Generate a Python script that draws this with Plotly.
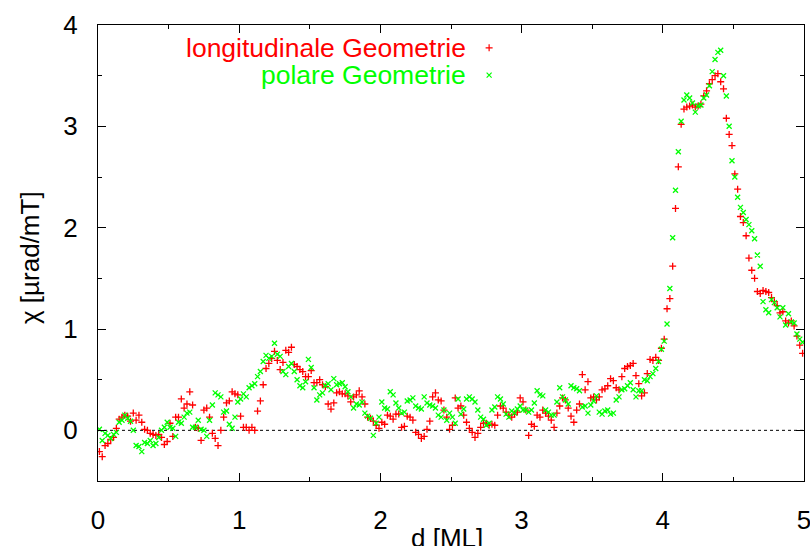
import numpy as np
import plotly.graph_objects as go

# Susceptibility chi [µrad/mT] vs. film thickness d [ML], sampled every 0.02 ML from 0.01 ML
d_start = 0.01
d_step = 0.02

chi_longitudinal = [
    -0.21, -0.26, -0.15, -0.13, -0.09, -0.07, 0.02, 0.11, 0.13, 0.15,
    0.14, 0.09, 0.17, 0.10, 0.15, 0.08, 0.01, 0.00, -0.03, -0.04,
    -0.05, -0.04, -0.07, -0.14, -0.11, 0.07, -0.06, 0.13, 0.13, 0.31,
    0.22, 0.26, 0.38, 0.25, 0.03, 0.02, -0.10, 0.20, 0.22, 0.13,
    -0.03, -0.08, -0.15, 0.00, 0.13, 0.27, 0.29, 0.38, 0.36, 0.35,
    0.14, 0.03, 0.03, 0.00, 0.03, 0.00, 0.19, 0.29, 0.45, 0.61,
    0.66, 0.71, 0.78, 0.69, 0.60, 0.67, 0.79, 0.77, 0.82, 0.65,
    0.63, 0.60, 0.58, 0.53, 0.53, 0.59, 0.47, 0.47, 0.50, 0.45,
    0.43, 0.26, 0.21, 0.27, 0.37, 0.38, 0.36, 0.36, 0.34, 0.28,
    0.33, 0.35, 0.39, 0.33, 0.26, 0.13, 0.12, 0.09, 0.05, 0.02,
    0.08, 0.06, 0.15, 0.14, 0.11, 0.16, 0.16, 0.03, 0.04, 0.14,
    0.13, 0.10, -0.02, -0.04, -0.08, -0.06, 0.01, 0.09, 0.33, 0.37,
    0.30, 0.29, 0.20, 0.13, 0.01, 0.05, 0.32, 0.22, 0.24, 0.15,
    0.08, 0.02, -0.02, -0.07, -0.03, 0.03, 0.07, 0.07, 0.05, 0.06,
    0.05, 0.15, 0.24, 0.22, 0.18, 0.15, 0.13, 0.16, 0.18, 0.32,
    0.28, 0.20, -0.05, 0.06, 0.04, 0.15, 0.13, 0.20, 0.17, 0.14,
    0.10, 0.03, 0.17, 0.24, 0.32, 0.30, 0.22, 0.14, 0.08, 0.20,
    0.26, 0.55, 0.40, 0.48, 0.32, 0.33, 0.30, 0.33, 0.40, 0.41,
    0.44, 0.51, 0.49, 0.42, 0.40, 0.53, 0.61, 0.63, 0.64, 0.66,
    0.54, 0.46, 0.34, 0.37, 0.56, 0.70, 0.69, 0.72, 0.69, 0.81,
    0.90, 1.20, 1.30, 1.62, 2.19, 2.60, 3.02, 3.17, 3.19, 3.20,
    3.21, 3.19, 3.20, 3.22, 3.30, 3.35, 3.42, 3.46, 3.50, 3.52,
    3.44, 3.37, 3.08, 2.92, 2.81, 2.53, 2.38, 2.11, 2.05, 1.92,
    1.70, 1.58, 1.50, 1.37, 1.35, 1.38, 1.37, 1.36, 1.31, 1.27,
    1.23, 1.16, 1.17, 1.08, 1.06, 1.08, 1.03, 0.93, 0.84, 0.76,
]

chi_polar = [
    0.01, -0.10, -0.03, -0.05, -0.08, -0.04, -0.02, 0.08, 0.10, 0.15,
    0.12, 0.09, 0.00, -0.15, -0.16, -0.21, -0.12, -0.13, -0.10, -0.15,
    -0.13, -0.07, 0.00, 0.03, 0.08, 0.03, 0.02, -0.06, 0.08, 0.07,
    0.13, 0.17, 0.18, 0.03, 0.03, 0.10, 0.01, 0.00, -0.06, 0.10,
    0.25, 0.37, 0.35, 0.33, 0.18, 0.19, 0.06, 0.02, 0.13, 0.28,
    0.31, 0.36, 0.33, 0.42, 0.44, 0.46, 0.53, 0.58, 0.68, 0.74,
    0.71, 0.73, 0.86, 0.75, 0.73, 0.58, 0.55, 0.63, 0.66, 0.58,
    0.50, 0.44, 0.42, 0.48, 0.70, 0.62, 0.42, 0.30, 0.35, 0.37,
    0.44, 0.46, 0.40, 0.51, 0.45, 0.46, 0.47, 0.43, 0.38, 0.33,
    0.22, 0.26, 0.25, 0.28, 0.17, 0.14, 0.12, -0.05, 0.07, 0.13,
    0.28, 0.22, 0.21, 0.38, 0.35, 0.27, 0.22, 0.17, 0.18, 0.29,
    0.30, 0.32, 0.24, 0.22, 0.21, 0.33, 0.27, 0.25, 0.24, 0.22,
    0.15, 0.13, 0.20, 0.10, 0.17, 0.13, 0.07, 0.31, 0.16, 0.21,
    0.31, 0.33, 0.31, 0.28, 0.20, 0.13, 0.11, 0.05, 0.07, 0.20,
    0.23, 0.33, 0.31, 0.26, 0.16, 0.13, 0.19, 0.17, 0.21, 0.24,
    0.20, 0.20, 0.18, 0.20, 0.27, 0.39, 0.35, 0.34, 0.20, 0.18,
    0.15, 0.15, 0.28, 0.42, 0.33, 0.30, 0.26, 0.44, 0.42, 0.41,
    0.39, 0.23, 0.24, 0.17, 0.25, 0.29, 0.34, 0.18, 0.16, 0.19,
    0.20, 0.16, 0.17, 0.30, 0.33, 0.40, 0.41, 0.44, 0.47, 0.40,
    0.33, 0.39, 0.39, 0.50, 0.49, 0.53, 0.56, 0.61, 0.68, 0.80,
    0.88, 1.05, 1.40, 1.90, 2.37, 2.75, 3.05, 3.26, 3.31, 3.28,
    3.23, 3.14, 3.20, 3.21, 3.28, 3.31, 3.40, 3.54, 3.66, 3.73,
    3.75, 3.50, 3.30, 3.00, 2.66, 2.50, 2.30, 2.20, 2.15, 2.08,
    2.03, 1.97, 1.89, 1.73, 1.62, 1.27, 1.19, 1.16, 1.29, 1.26,
    1.21, 1.12, 1.21, 1.04, 1.15, 1.07, 1.06, 0.95, 0.90, 0.87,
]

x_ticks = [0, 1, 2, 3, 4, 5]
y_ticks = [0, 1, 2, 3, 4]
labels = ["longitudinale Geometrie", "polare Geometrie"]
colors = ["#ff0000", "#00ff00"]
symbols = ["cross-thin", "x-thin"]

d_long = np.round(d_start + d_step * np.arange(len(chi_longitudinal)), 3)
d_pol = np.round(d_start + d_step * np.arange(len(chi_polar)), 3)

FONT = "Liberation Sans, Arial, Helvetica, sans-serif"

fig = go.Figure()

# dotted zero axis
fig.add_trace(go.Scatter(
    x=[x_ticks[0], x_ticks[-1]], y=[0, 0], mode="lines",
    line=dict(color="black", width=1, dash="3px,3px"),
    hoverinfo="skip", showlegend=False,
))

for xs, ys, col, sym in [(d_long, chi_longitudinal, colors[0], symbols[0]),
                         (d_pol, chi_polar, colors[1], symbols[1])]:
    fig.add_trace(go.Scatter(
        x=xs, y=ys, mode="markers", showlegend=False,
        marker=dict(symbol=sym, size=5, color=col, line=dict(width=1.3, color=col)),
    ))

# key samples next to the key texts (on an overlay axis spanning the plot area)
key_x = 0.554
key_y = [0.950, 0.890]
for ky, col, sym in zip(key_y, colors, symbols):
    fig.add_trace(go.Scatter(
        x=[key_x], y=[ky], xaxis="x2", yaxis="y2", mode="markers", showlegend=False,
        marker=dict(symbol=sym, size=5, color=col, line=dict(width=1.2, color=col)),
        hoverinfo="skip",
    ))

annotations = []
for lab, ky, col in zip(labels, key_y, colors):
    annotations.append(dict(
        text=lab, xref="paper", yref="paper", x=0.524, y=ky,
        xanchor="right", yanchor="middle", showarrow=False,
        font=dict(family=FONT, size=26.5, color=col),
    ))
annotations.append(dict(
    text="d [ML]", xref="paper", yref="paper", x=0.494, y=-0.125,
    xanchor="center", yanchor="middle", showarrow=False,
    font=dict(family=FONT, size=26, color="black"),
))
annotations.append(dict(
    text="χ [µrad/mT]", xref="paper", yref="paper", x=-0.0963, y=0.489,
    xanchor="center", yanchor="middle", textangle=-90, showarrow=False,
    font=dict(family=FONT, size=26, color="black"),
))

axis_common = dict(
    showline=True, linecolor="black", linewidth=1, mirror="ticks",
    ticks="inside", ticklen=8, tickcolor="black", tickwidth=1,
    showgrid=False, zeroline=False, ticklabeloverflow="allow", automargin=False,
    tickfont=dict(family=FONT, size=26, color="black"),
)

fig.update_layout(
    width=810, height=546,
    margin=dict(l=98, r=6, t=25, b=65, autoexpand=False),
    paper_bgcolor="white", plot_bgcolor="white",
    annotations=annotations,
    xaxis=dict(range=[0, 5], tickvals=x_ticks, ticktext=[str(v) for v in x_ticks],
               minor=dict(dtick=0.5, ticks="inside", ticklen=4, tickcolor="black"),
               ticklabelstandoff=16, **axis_common),
    yaxis=dict(range=[-0.5, 4], tickvals=y_ticks, ticktext=[str(v) for v in y_ticks],
               minor=dict(dtick=0.5, ticks="inside", ticklen=4, tickcolor="black"),
               ticklabelstandoff=14, **axis_common),
    xaxis2=dict(range=[0, 1], overlaying="x", visible=False),
    yaxis2=dict(range=[0, 1], overlaying="y", visible=False),
)

fig.write_html("out.html")
